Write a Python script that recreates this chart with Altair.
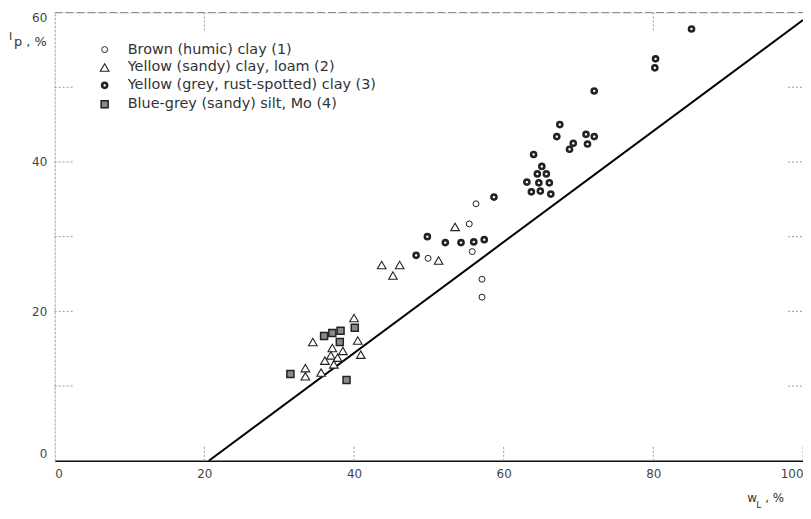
import altair as alt
import pandas as pd

# ---- data ----
groups = ["Brown (humic) clay (1)",
          "Yellow (sandy) clay, loam (2)",
          "Yellow (grey, rust-spotted) clay (3)",
          "Blue-grey (sandy) silt, Mo (4)"]

wl_1 = [49.9, 55.8, 55.4, 56.3, 57.1, 57.1]
ip_1 = [27.1, 28.0, 31.7, 34.4, 24.3, 21.9]

wl_2 = [43.7, 46.1, 45.2, 51.3, 53.5, 40.0, 34.5, 40.5, 37.1, 38.5, 40.9, 36.9,
        37.8, 36.1, 37.3, 35.6, 33.5, 33.5]
ip_2 = [26.2, 26.2, 24.8, 26.8, 31.3, 19.1, 15.9, 16.1, 15.1, 14.7, 14.2, 14.1,
        13.8, 13.4, 12.9, 11.8, 12.4, 11.3]

wl_3 = [48.3, 49.8, 52.2, 54.3, 56.0, 57.4, 58.7, 64.0, 65.1, 64.5, 65.7, 63.1,
        64.7, 66.1, 63.7, 64.9, 66.3, 67.1, 67.5, 68.8, 69.3, 71.0, 71.2, 72.1,
        72.1, 80.2, 80.3, 85.1]
ip_3 = [27.5, 30.0, 29.2, 29.2, 29.3, 29.6, 35.3, 41.0, 39.4, 38.4, 38.4, 37.3,
        37.2, 37.2, 36.0, 36.1, 35.7, 43.4, 45.0, 41.7, 42.5, 43.7, 42.4, 43.4,
        49.5, 52.6, 53.8, 57.8]

wl_4 = [40.1, 38.2, 37.1, 36.0, 38.1, 31.5, 39.0]
ip_4 = [17.8, 17.4, 17.1, 16.7, 15.9, 11.6, 10.8]

line_wl = [20.6, 100.0]
line_ip = [0.0, 59.0]

x_labels = [0, 20, 40, 60, 80, 100]
y_labels = [0, 20, 40, 60]
left_ticks = [10, 20, 30, 40, 50]
right_ticks = [10, 20, 30, 40, 50]
bottom_ticks = [20, 40, 60, 80, 100]
top_ticks = [20, 80]

# ---- tables ----
rows = []
for g, xs_, ys_ in zip(groups, [wl_1, wl_2, wl_3, wl_4], [ip_1, ip_2, ip_3, ip_4]):
    for a, b in zip(xs_, ys_):
        rows.append({"group": g, "wl": a, "ip": b})
pts = pd.DataFrame(rows)
line_df = pd.DataFrame({"wl": line_wl, "ip": line_ip})

FONT = "DejaVu Sans"
INK = "#222222"

xs = alt.Scale(domain=[0, 100], nice=False)
ys = alt.Scale(domain=[0, 60], nice=False)

x_axis = alt.Axis(values=x_labels, title=None, ticks=False, grid=False,
                  domainColor="#111", domainWidth=1.6, labelFont=FONT,
                  labelFontSize=12, labelColor="#444", labelPadding=8)
y_axis = alt.Axis(values=y_labels, title=None, ticks=False, grid=False,
                  domainColor="#aaa", domainDash=[2, 2], domainWidth=1,
                  labelFont=FONT, labelFontSize=12, labelColor="#444",
                  labelPadding=8, labelFlush=True)

legend = alt.Legend(title=None, orient="none", legendX=43, legendY=30,
                    labelFont=FONT, labelFontSize=14.5, labelColor="#333",
                    labelOffset=16, rowPadding=3, labelLimit=0)

points = alt.Chart(pts).mark_point(opacity=1, filled=False).encode(
    x=alt.X("wl:Q", scale=xs, axis=x_axis),
    y=alt.Y("ip:Q", scale=ys, axis=y_axis),
    shape=alt.Shape("group:N", scale=alt.Scale(domain=groups,
                    range=["circle", "triangle-up", "circle", "square"]),
                    legend=legend),
    fill=alt.Fill("group:N", scale=alt.Scale(domain=groups,
                  range=["white", "white", "white", "#8a8a8a"]), legend=legend),
    stroke=alt.Stroke("group:N", scale=alt.Scale(domain=groups,
                  range=[INK, INK, INK, INK]), legend=legend),
    size=alt.Size("group:N", scale=alt.Scale(type="ordinal", domain=groups,
                  range=[36, 75, 26, 50]), legend=legend),
    strokeWidth=alt.StrokeWidth("group:N", scale=alt.Scale(type="ordinal",
                  domain=groups, range=[1.0, 1.1, 2.6, 1.5]), legend=legend),
)

aline = alt.Chart(line_df).mark_line(color="#000", strokeWidth=2).encode(
    x=alt.X("wl:Q", scale=xs), y=alt.Y("ip:Q", scale=ys))

tick_style = dict(color="#999", strokeDash=[2, 2], strokeWidth=1)
lt = alt.Chart(pd.DataFrame({"v": left_ticks})).mark_rule(**tick_style).encode(
    y=alt.Y("v:Q", scale=ys), x=alt.value(0), x2=alt.value(20))
rt = alt.Chart(pd.DataFrame({"v": right_ticks})).mark_rule(**tick_style).encode(
    y=alt.Y("v:Q", scale=ys), x=alt.value(738), x2=alt.value(753))
bt = alt.Chart(pd.DataFrame({"v": bottom_ticks})).mark_rule(**tick_style).encode(
    x=alt.X("v:Q", scale=xs), y=alt.value(451), y2=alt.value(435))
tt = alt.Chart(pd.DataFrame({"v": top_ticks})).mark_rule(**tick_style).encode(
    x=alt.X("v:Q", scale=xs), y=alt.value(0), y2=alt.value(20))
top_border = alt.Chart(pd.DataFrame({"v": [0]})).mark_rule(
    color="#888", strokeDash=[8, 3], strokeWidth=1).encode(
    x=alt.value(0), x2=alt.value(753), y=alt.value(0))

def label(txt, x, y, size=13, align="left"):
    return alt.Chart(pd.DataFrame({"t": [txt]})).mark_text(
        font=FONT, fontSize=size, color="#333", align=align,
        baseline="middle").encode(text="t:N", x=alt.value(x), y=alt.value(y))

titles = (label("I", -46, 25, 11) + label("p , %", -41, 30, 13)
          + label("w", 697, 489, 12) + label("L", 706, 496, 9)
          + label(", %", 715, 489, 12))

chart = (top_border + lt + rt + bt + tt + aline + points + titles).properties(
    width=753, height=451,
    autosize=alt.AutoSizeParams(type="none"),
    padding={"left": 47, "top": 3, "right": 0, "bottom": 50},
).configure_view(stroke=None).configure(background="white")

chart.save("out.html", embed_options={"renderer": "svg", "actions": False})
